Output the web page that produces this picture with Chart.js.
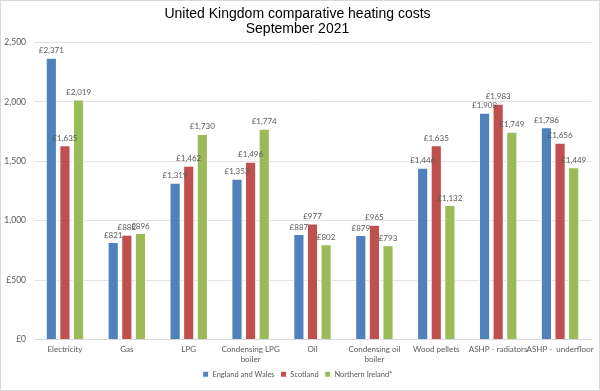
<!DOCTYPE html>
<html>
<head>
<meta charset="utf-8">
<script src="https://cdn.jsdelivr.net/npm/chart.js@4/dist/chart.umd.min.js"></script>
<style>
  html, body { margin: 0; padding: 0; background: #fff; }
  #wrap { position: relative; width: 598px; height: 389px; border: 1px solid #d9d9d9; }
</style>
</head>
<body>
<div id="wrap"><canvas id="chart"></canvas></div>
<script>
// Heating cost comparison, September 2021

const categories = [
  "Electricity",
  "Gas",
  "LPG",
  ["Condensing LPG", "boiler"],
  "Oil",
  ["Condensing oil", "boiler"],
  "Wood pellets",
  "ASHP - radiators",
  "ASHP -  underfloor",
];

const englandWales = [2371, 821, 1319, 1353, 887, 879, 1446, 1908, 1786];
const scotland = [1635, 882, 1462, 1496, 977, 965, 1635, 1983, 1656];
const northernIreland = [2019, 896, 1730, 1774, 802, 793, 1132, 1749, 1449];

const seriesNames = ["England and Wales", "Scotland", "Northern Ireland*"];
const yTicks = [0, 500, 1000, 1500, 2000, 2500];

const fontFamily = "Lato, 'Liberation Sans', sans-serif";
const gray = "#595959";

function pounds(v) {
  return "£" + v.toLocaleString("en-GB");
}

// draws the value above each bar
const valueLabels = {
  id: "valueLabels",
  afterDatasetsDraw(chart) {
    const { ctx } = chart;
    ctx.save();
    ctx.font = "8px " + fontFamily;
    ctx.fillStyle = gray;
    ctx.textAlign = "center";
    ctx.textBaseline = "bottom";
    chart.data.datasets.forEach((ds, i) => {
      const meta = chart.getDatasetMeta(i);
      meta.data.forEach((bar, j) => {
        ctx.fillText(pounds(ds.data[j]), bar.x, bar.y - 3);
      });
    });
    ctx.restore();
  },
};

new Chart(document.getElementById("chart"), {
  type: "bar",
  data: {
    labels: categories,
    datasets: [
      { label: seriesNames[0], data: englandWales, backgroundColor: "#4f81bd" },
      { label: seriesNames[1], data: scotland, backgroundColor: "#c0504d" },
      { label: seriesNames[2], data: northernIreland, backgroundColor: "#9bbb59" },
    ].map((d) => ({
      ...d,
      borderColor: "#ffffff",
      borderWidth: 1,
      categoryPercentage: 0.66,
      barPercentage: 0.82,
    })),
  },
  options: {
    responsive: true,
    maintainAspectRatio: false,
    animation: false,
    layout: { padding: { left: 3, right: 8, top: 3, bottom: 2 } },
    plugins: {
      title: {
        display: true,
        text: ["United Kingdom comparative heating costs", "September 2021"],
        color: "#000",
        font: { family: "'Liberation Sans', Arial, sans-serif", size: 14, weight: "normal", lineHeight: 1.05 },
        padding: { top: 3, bottom: 6 },
      },
      legend: {
        position: "bottom",
        labels: {
          boxWidth: 6,
          boxHeight: 6,
          color: gray,
          font: { family: fontFamily, size: 7.5 },
          padding: 6,
        },
      },
      tooltip: { enabled: false },
    },
    scales: {
      x: {
        grid: { display: false },
        border: { color: "#d9d9d9" },
        afterFit: (axis) => {
          axis.height = 25;
        },
        ticks: {
          color: gray,
          font: { family: fontFamily, size: 8, lineHeight: 1.25 },
          maxRotation: 0,
          autoSkip: false,
          padding: -3,
        },
      },
      y: {
        min: 0,
        max: 2500,
        afterBuildTicks: (axis) => {
          axis.ticks = yTicks.map((v) => ({ value: v }));
        },
        afterFit: (axis) => {
          axis.width = 30;
        },
        grid: { color: "#e3e3e3", drawTicks: false },
        border: { display: false },
        ticks: {
          color: gray,
          font: { family: fontFamily, size: 8.5 },
          padding: 8,
          callback: (v) => pounds(v),
        },
      },
    },
  },
  plugins: [valueLabels],
});
</script>
</body>
</html>
